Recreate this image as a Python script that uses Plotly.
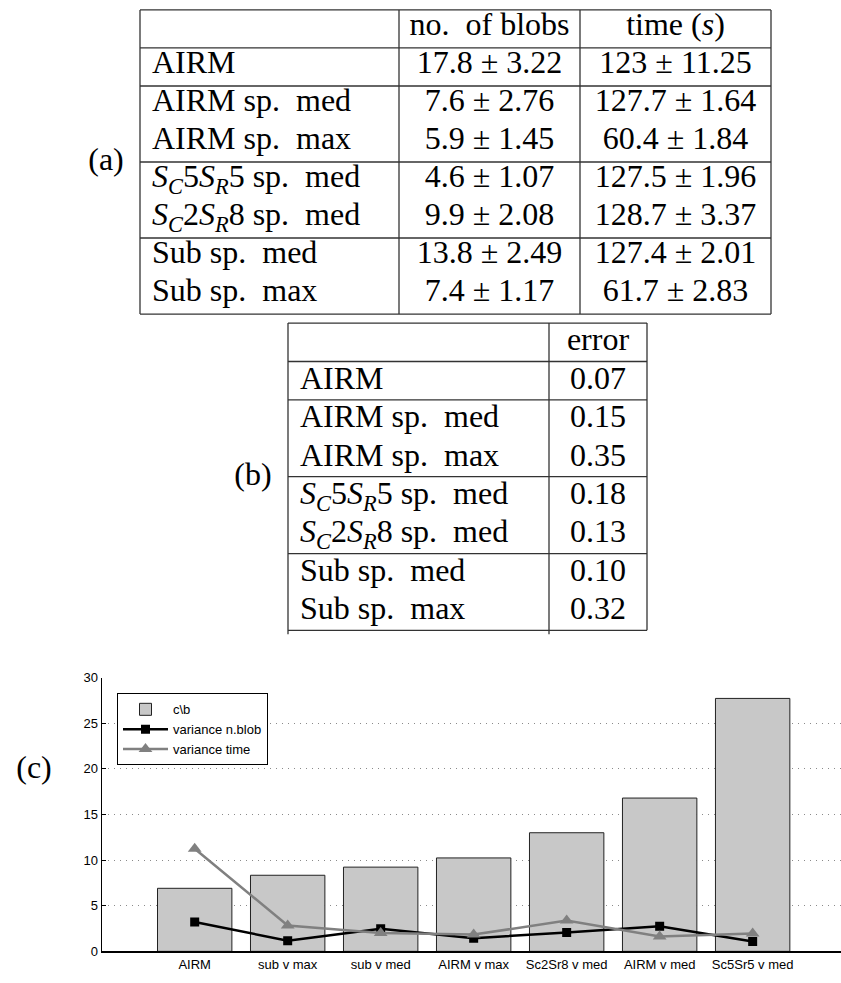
import plotly.graph_objects as go

# ---------------- data ----------------
row_labels = [
    "AIRM",
    "AIRM sp.\u2002med",
    "AIRM sp.\u2002max",
    "<i>S<sub>C</sub></i>5<i>S<sub>R</sub></i>5 sp.\u2002med",
    "<i>S<sub>C</sub></i>2<i>S<sub>R</sub></i>8 sp.\u2002med",
    "Sub sp.\u2002med",
    "Sub sp.\u2002max",
]
header_a = ["", "no.\u2002of blobs", "time (<i>s</i>)"]
blobs_mean = ["17.8", "7.6", "5.9", "4.6", "9.9", "13.8", "7.4"]
blobs_std = ["3.22", "2.76", "1.45", "1.07", "2.08", "2.49", "1.17"]
time_mean = ["123", "127.7", "60.4", "127.5", "128.7", "127.4", "61.7"]
time_std = ["11.25", "1.64", "1.84", "1.96", "3.37", "2.01", "2.83"]

header_b = ["", "error"]
error_vals = ["0.07", "0.15", "0.35", "0.18", "0.13", "0.10", "0.32"]

categories = ["AIRM", "sub v max", "sub v med", "AIRM v max",
              "Sc2Sr8 v med", "AIRM v med", "Sc5Sr5 v med"]
c_over_b = [6.91, 8.34, 9.23, 10.24, 13.0, 16.8, 27.72]
variance_nblob = [3.22, 1.17, 2.49, 1.45, 2.08, 2.76, 1.07]
variance_time = [11.25, 2.83, 2.01, 1.84, 3.37, 1.64, 1.96]
y_ticks = [0, 5, 10, 15, 20, 25, 30]

# ---------------- layout geometry (pixels) ----------------
W, H = 841, 983
SERIF = "Liberation Serif"
SANS = "Liberation Sans, Arial"
FS = 32
SFS = 13
LINE = "#333333"

fig = go.Figure()

# ---- chart (c) ----
fig.add_trace(go.Bar(
    x=categories, y=c_over_b, name="c\\b",
    marker=dict(color="#c8c8c8", line=dict(color="#222222", width=1)),
    width=0.8, xaxis="x", yaxis="y"))
fig.add_trace(go.Scatter(
    x=categories, y=variance_nblob, name="variance n.blob",
    mode="lines+markers", line=dict(color="#000000", width=2.5),
    marker=dict(symbol="square", size=9, color="#000000"),
    xaxis="x", yaxis="y"))
fig.add_trace(go.Scatter(
    x=categories, y=variance_time, name="variance time",
    mode="lines+markers", line=dict(color="#808080", width=2.5),
    marker=dict(symbol="triangle-up", size=12, color="#808080"),
    xaxis="x", yaxis="y"))

# ---- tables on a pixel-scaled overlay axis ----
def row_edges(top, pitch, n):
    return [top + pitch * k for k in range(n + 1)]

# table (a)
a_x = [140, 399, 580, 771]
a_rows = row_edges(3, 38.6, 8)
a_hlines = [a_rows[i] for i in (0, 1, 2, 4, 6, 8)]
# table (b)
b_x = [288, 549, 647]
b_rows = row_edges(321, 39, 8)
b_hlines = [b_rows[i] for i in (0, 1, 2, 4, 6, 8)]

shapes = []
for y in a_hlines:
    shapes.append(dict(type="line", xref="x2", yref="y2", x0=a_x[0], x1=a_x[-1],
                       y0=y, y1=y, line=dict(color=LINE, width=1.3)))
for x in a_x:
    shapes.append(dict(type="line", xref="x2", yref="y2", x0=x, x1=x,
                       y0=a_rows[0], y1=a_rows[-1], line=dict(color=LINE, width=1.3)))
for y in b_hlines:
    shapes.append(dict(type="line", xref="x2", yref="y2", x0=b_x[0], x1=b_x[-1],
                       y0=y, y1=y, line=dict(color=LINE, width=1.3)))
for i, x in enumerate(b_x):
    y1 = b_rows[-1] + (4 if i < 2 else 0)
    shapes.append(dict(type="line", xref="x2", yref="y2", x0=x, x1=x,
                       y0=b_rows[0], y1=y1, line=dict(color=LINE, width=1.3)))

def centers(edges, shift=0.0):
    return [(edges[i] + edges[i + 1]) / 2 + shift for i in range(len(edges) - 1)]

a_cy = centers(a_rows, -2)
b_cy = centers(b_rows)

txt_font = dict(family=SERIF, size=FS, color="#000000")

def text_trace(xs, ys, texts, pos="middle center"):
    return go.Scatter(x=xs, y=ys, text=texts, mode="text", textposition=pos,
                      textfont=txt_font, xaxis="x2", yaxis="y2",
                      showlegend=False, hoverinfo="skip", cliponaxis=False)

# table (a)
fig.add_trace(text_trace([(a_x[1] + a_x[2]) / 2, (a_x[2] + a_x[3]) / 2],
                         [a_cy[0]] * 2, header_a[1:]))
fig.add_trace(text_trace([a_x[0] + 12] * len(row_labels), a_cy[1:], row_labels,
                         "middle right"))
fig.add_trace(text_trace([(a_x[1] + a_x[2]) / 2] * len(blobs_mean), a_cy[1:],
                         [f"{m} \u00b1 {s}" for m, s in zip(blobs_mean, blobs_std)]))
fig.add_trace(text_trace([(a_x[2] + a_x[3]) / 2] * len(time_mean), a_cy[1:],
                         [f"{m} \u00b1 {s}" for m, s in zip(time_mean, time_std)]))

# table (b)
fig.add_trace(text_trace([(b_x[1] + b_x[2]) / 2], [b_cy[0]], header_b[1:]))
fig.add_trace(text_trace([b_x[0] + 12] * len(row_labels), b_cy[1:], row_labels,
                         "middle right"))
fig.add_trace(text_trace([(b_x[1] + b_x[2]) / 2] * len(error_vals), b_cy[1:],
                         error_vals))

# panel labels
fig.add_trace(text_trace([106, 253, 34],
                         [(a_rows[0] + a_rows[-1]) / 2, (b_rows[0] + b_rows[-1]) / 2, 775],
                         ["(a)", "(b)", "(c)"]))

# ---------------- layout ----------------
x_left = 101.7 / W
y_bot = 1 - 959 / H
y_top = 1 - 681 / H

fig.update_layout(
    width=W, height=H,
    margin=dict(l=0, r=0, t=0, b=0),
    paper_bgcolor="white", plot_bgcolor="rgba(0,0,0,0)",
    font=dict(family=SANS, size=SFS, color="#000000"),
    bargap=0.2,
    shapes=shapes,
    xaxis=dict(domain=[x_left, 1], range=[-1, 6.95], type="category",
               showgrid=False, showline=True, linecolor="#000000", linewidth=1.5,
               ticks="", tickfont=dict(family=SANS, size=SFS, color="#000000"),
               zeroline=False, fixedrange=True),
    yaxis=dict(domain=[y_bot, y_top], range=[0, 30], tickvals=y_ticks,
               showgrid=True, gridcolor="#8a8a8a", griddash="1px,5px", gridwidth=1,
               showline=True, linecolor="#000000", linewidth=1.2,
               ticks="inside", ticklen=4, tickcolor="#000000",
               tickfont=dict(family=SANS, size=SFS, color="#000000"),
               zeroline=False, fixedrange=True),
    xaxis2=dict(domain=[0, 1], range=[0, W], visible=False, anchor="y2",
                fixedrange=True),
    yaxis2=dict(domain=[0, 1], range=[H, 0], visible=False, anchor="x2",
                fixedrange=True),
    legend=dict(x=117 / W, y=1 - 697 / H, xanchor="left", yanchor="top",
                bgcolor="white", bordercolor="#000000", borderwidth=1,
                font=dict(family=SANS, size=SFS, color="#000000"),
                itemwidth=45, tracegroupgap=0),
    showlegend=True,
)

fig.write_html("out.html", config={"displayModeBar": False},
               post_script="document.body.style.margin='0';")
